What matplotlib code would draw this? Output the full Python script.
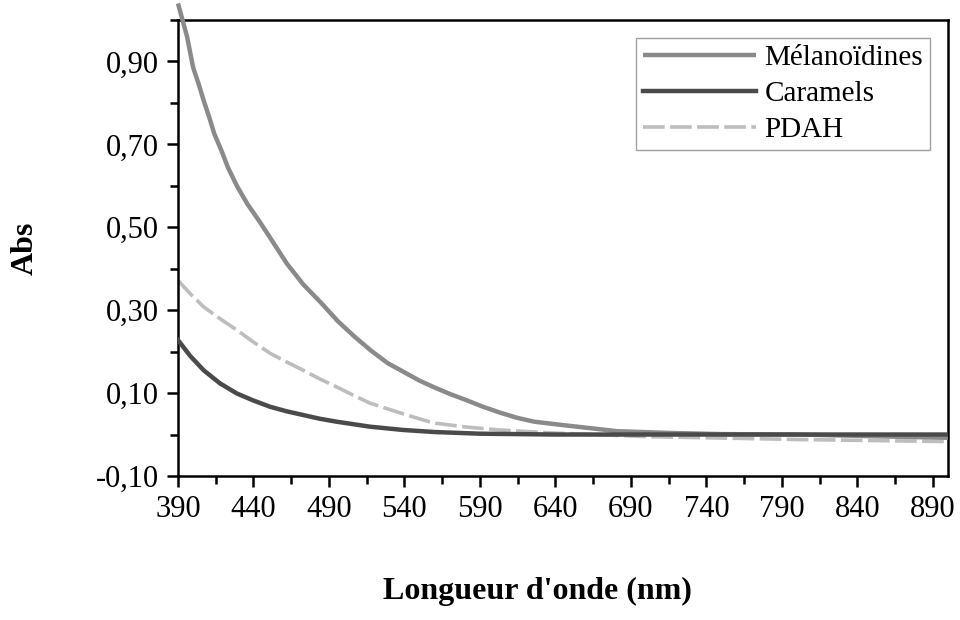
import numpy as np
import matplotlib
matplotlib.use("Agg")
import matplotlib.pyplot as plt
from matplotlib.ticker import FuncFormatter

# values
wl_mel = [390, 393, 396, 400, 404, 407, 411, 414, 419, 423, 429, 436, 444,
          451, 462, 473, 485, 496, 507, 518, 529, 540, 550, 559, 570, 581,
          592, 604, 615, 626, 642, 659, 681, 714, 750, 800, 850, 900]
abs_mel = [1.04, 1.00, 0.96, 0.886, 0.842, 0.806, 0.762, 0.726, 0.683, 0.645,
           0.600, 0.556, 0.514, 0.475, 0.413, 0.362, 0.317, 0.273, 0.236,
           0.202, 0.172, 0.150, 0.130, 0.115, 0.098, 0.083, 0.067, 0.052,
           0.040, 0.031, 0.024, 0.017, 0.008, 0.004, 0.001, 0.0, -0.004,
           -0.008]

wl_car = [390, 398, 407, 418, 429, 440, 451, 462, 473, 484, 495, 506, 517,
          528, 539, 560, 590, 640, 700, 800, 900]
abs_car = [0.228, 0.19, 0.155, 0.123, 0.099, 0.082, 0.067, 0.056, 0.047,
           0.038, 0.031, 0.025, 0.019, 0.015, 0.011, 0.006, 0.002, 0.0, 0.0,
           0.0, 0.0]

wl_pdah = [390, 398, 407, 418, 429, 440, 451, 462, 473, 484, 495, 506, 517,
           528, 539, 559, 581, 603, 637, 700, 800, 900]
abs_pdah = [0.372, 0.34, 0.308, 0.279, 0.252, 0.223, 0.196, 0.175, 0.155,
            0.134, 0.115, 0.095, 0.076, 0.063, 0.050, 0.028, 0.018, 0.011,
            0.004, -0.005, -0.012, -0.017]

xticks = [390, 440, 490, 540, 590, 640, 690, 740, 790, 840, 890]
yticks = [-0.10, 0.10, 0.30, 0.50, 0.70, 0.90]

plt.rcParams['font.family'] = ['Liberation Serif', 'DejaVu Serif']

fig = plt.figure(figsize=(9.6, 6.2), dpi=100)
ax = fig.add_axes([0.1854, 0.2323, 0.802, 0.7354])

ax.plot(wl_mel, abs_mel, color="#8a8a8a", lw=3.2, label="Mélanoïdines",
        clip_on=False, solid_capstyle="butt", zorder=3)
ax.plot(wl_car, abs_car, color="#4a4a4a", lw=3.2, label="Caramels",
        zorder=3)
ax.plot(wl_pdah, abs_pdah, color="#bdbdbd", lw=2.6, ls=(0, (6, 1.5)),
        label="PDAH", zorder=2)

ax.set_xticks(xticks)
ax.set_xticks([t + 25 for t in xticks[:-1]], minor=True)
ax.set_yticks(yticks)
ax.set_yticks([t + 0.1 for t in yticks], minor=True)
ax.set_xlim(390, 900)
ax.set_ylim(-0.10, 1.0)
ax.yaxis.set_major_formatter(FuncFormatter(lambda v, p: f"{v:.2f}".replace(".", ",")))

for s in ax.spines.values():
    s.set_linewidth(1.8)
ax.tick_params(which="both", direction="out", width=1.8, labelsize=22,
               color="black")
ax.tick_params(which="major", length=8, pad=6)
ax.tick_params(which="minor", length=6)

ax.set_xlabel("Longueur d'onde (nm)", fontsize=23, fontweight="bold")
ax.xaxis.set_label_coords(0.4675, -0.222)
ax.set_ylabel("Abs", fontsize=23, fontweight="bold", labelpad=40)

leg = ax.legend(loc="upper right", fontsize=21, frameon=True, fancybox=False,
                handlelength=3.85, handletextpad=0.3, borderpad=0.25,
                labelspacing=0.32, borderaxespad=0.6)
leg.get_frame().set_edgecolor("#888888")
leg.get_frame().set_linewidth(1.0)

fig.savefig("out.png", dpi=100)
